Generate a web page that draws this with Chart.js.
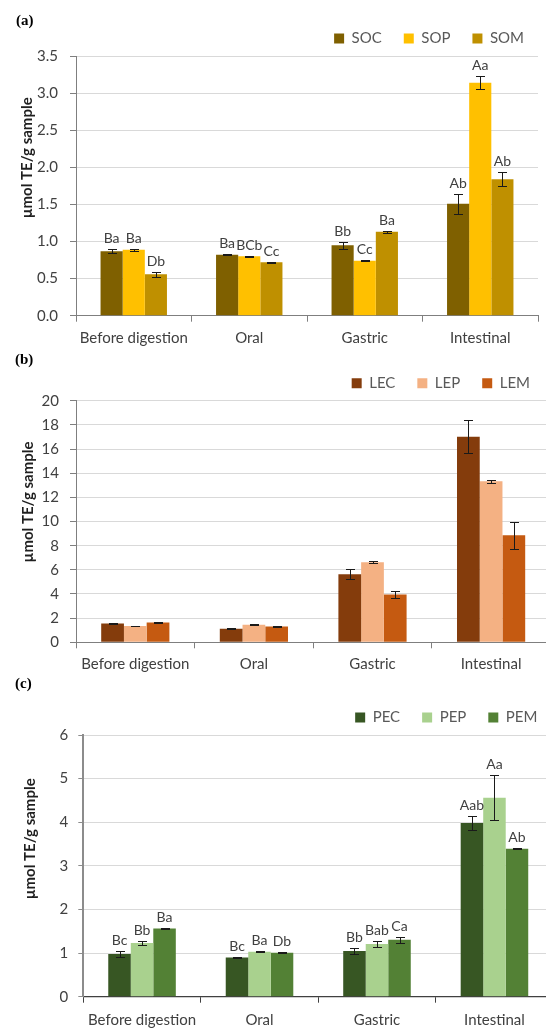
<!DOCTYPE html>
<html><head><meta charset="utf-8">
<script src="https://cdn.jsdelivr.net/npm/chart.js@4.4.1/dist/chart.umd.min.js"></script>
<style>
html,body{margin:0;padding:0;background:#fff;overflow:hidden;width:546px;height:1028px;position:relative;}
canvas.panel{position:absolute;left:0;}
.lab{position:absolute;font-family:"Liberation Serif",serif;font-weight:bold;font-size:15px;color:#000;line-height:17px;z-index:5;}
</style></head><body>
<canvas id="ca" class="panel" style="top:0" width="546" height="360"></canvas>
<canvas id="cb" class="panel" style="top:345px" width="560" height="335"></canvas>
<canvas id="cc" class="panel" style="top:680px" width="560" height="348"></canvas>
<div class="lab" style="left:16px;top:12px">(a)</div>
<div class="lab" style="left:15px;top:351px">(b)</div>
<div class="lab" style="left:15px;top:675px">(c)</div>
<script>
// ---- shared ----
const categories = ['Before digestion', 'Oral', 'Gastric', 'Intestinal'];
const yTitle = 'µmol TE/g sample';

// ---- panel (a) ----
const socVals = [0.87, 0.82, 0.95, 1.51];
const sopVals = [0.89, 0.80, 0.74, 3.14];
const somVals = [0.56, 0.72, 1.13, 1.84];
const socErr = [0.03, 0.005, 0.05, 0.135];
const sopErr = [0.013, 0.004, 0.004, 0.09];
const somErr = [0.035, 0.005, 0.012, 0.095];
const socLetters = ['Ba', 'Ba', 'Bb', 'Ab'];
const sopLetters = ['Ba', 'BCb', 'Cc', 'Aa'];
const somLetters = ['Db', 'Cc', 'Ba', 'Ab'];
const ticksA = [0, 3.5, 0.5];

// ---- panel (b) ----
const lecVals = [1.55, 1.13, 5.64, 17.02];
const lepVals = [1.35, 1.46, 6.63, 13.33];
const lemVals = [1.63, 1.30, 3.95, 8.87];
const lecErr = [0.05, 0.05, 0.40, 1.36];
const lepErr = [0.04, 0.04, 0.08, 0.13];
const lemErr = [0.05, 0.04, 0.29, 1.12];
const ticksB = [0, 20, 2];

// ---- panel (c) ----
const pecVals = [0.98, 0.90, 1.05, 3.98];
const pepVals = [1.23, 1.03, 1.21, 4.56];
const pemVals = [1.565, 1.01, 1.305, 3.39];
const pecErr = [0.075, 0.01, 0.065, 0.16];
const pepErr = [0.045, 0.01, 0.065, 0.52];
const pemErr = [0.01, 0.01, 0.065, 0.01];
const pecLetters = ['Bc', 'Bc', 'Bb', 'Aab'];
const pepLetters = ['Bb', 'Ba', 'Bab', 'Aa'];
const pemLetters = ['Ba', 'Db', 'Ca', 'Ab'];
const ticksC = [0, 6, 1];

Chart.defaults.font.family = 'Lato';
Chart.defaults.color = '#595959';

const errLettersPlugin = {
  id: 'errLetters',
  afterDatasetsDraw(chart) {
    const ctx = chart.ctx, ys = chart.scales.y;
    chart.data.datasets.forEach((ds, i) => {
      const meta = chart.getDatasetMeta(i);
      meta.data.forEach((bar, j) => {
        const v = ds.data[j], e = ds.errors[j];
        const x = Math.round(bar.x) + 0.5;
        const yT = Math.round(ys.getPixelForValue(v + e)) + 0.5;
        const yB = Math.round(ys.getPixelForValue(v - e)) + 0.5;
        ctx.save();
        ctx.strokeStyle = '#1a1a1a';
        ctx.lineWidth = 1;
        ctx.beginPath();
        ctx.moveTo(x, yT); ctx.lineTo(x, yB);
        ctx.moveTo(x - 4.5, yT); ctx.lineTo(x + 4.5, yT);
        ctx.moveTo(x - 4.5, yB); ctx.lineTo(x + 4.5, yB);
        ctx.stroke();
        if (ds.letters) {
          ctx.font = '14px Lato';
          ctx.fillStyle = '#404040';
          ctx.textAlign = 'center';
          ctx.textBaseline = 'alphabetic';
          ctx.fillText(ds.letters[j], bar.x, yT - 6.5);
        }
        ctx.restore();
      });
    });
  }
};

const yTitlePlugin = {
  id: 'yTitleDraw',
  afterDraw(chart, args, opts) {
    const ctx = chart.ctx, ca = chart.chartArea;
    ctx.save();
    ctx.translate(opts.x, (ca.top + ca.bottom) / 2 + opts.dy);
    ctx.rotate(-Math.PI / 2);
    ctx.font = 'bold 15px Lato';
    ctx.fillStyle = '#1f1f1f';
    ctx.textAlign = 'center';
    ctx.textBaseline = 'middle';
    ctx.fillText(opts.text, 0, 0);
    ctx.restore();
  }
};

function makeChart(id, cfg) {
  const datasets = cfg.series.map(s => ({
    label: s.label, data: s.values, errors: s.errors, letters: s.letters,
    backgroundColor: s.color, borderWidth: 0,
    categoryPercentage: 0.575, barPercentage: 1.0
  }));
  return new Chart(document.getElementById(id), {
    type: 'bar',
    data: { labels: categories, datasets },
    plugins: [errLettersPlugin, yTitlePlugin],
    options: {
      responsive: false, animation: false, devicePixelRatio: 1,
      layout: { padding: { left: 0, right: cfg.padR, top: cfg.padT, bottom: 0 } },
      plugins: {
        legend: {
          position: 'top', align: 'end',
          labels: { boxWidth: 10, boxHeight: 10, padding: 22, color: '#595959', font: { size: 15 } }
        },
        tooltip: { enabled: false },
        yTitleDraw: { text: yTitle, x: cfg.titleX, dy: cfg.titleDy }
      },
      scales: {
        x: {
          offset: true,
          grid: { display: true, drawOnChartArea: false, drawTicks: true, tickLength: 6, offset: true, tickColor: cfg.xAxisColor },
          border: { display: true, color: cfg.xAxisColor, width: cfg.xAxisWidth },
          ticks: { color: '#404040', font: { size: 15 }, padding: cfg.xPad, maxRotation: 0, autoSkip: false },
          afterFit: s => { s.height = cfg.xHeight; }
        },
        y: {
          position: 'left',
          min: cfg.ticks[0], max: cfg.ticks[1],
          grid: { color: '#d9d9d9', lineWidth: 1, tickLength: cfg.yTick, tickColor: cfg.yAxisColor },
          border: { display: true, color: cfg.yAxisColor, width: cfg.yAxisWidth },
          ticks: {
            stepSize: cfg.ticks[2], color: '#404040', font: { size: 15 }, padding: cfg.yPad,
            callback: v => cfg.decimals ? Number(v).toFixed(cfg.decimals) : String(v)
          },
          afterFit: s => { s.width = cfg.axisX; }
        },
        yR: {
          position: 'right', display: true,
          grid: { display: false, drawTicks: false }, border: { display: false },
          ticks: { display: false },
          afterFit: s => { s.width = cfg.rightW; }
        }
      }
    }
  });
}

makeChart('ca', {
  series: [
    { label: 'SOC', values: socVals, errors: socErr, letters: socLetters, color: '#7f6000' },
    { label: 'SOP', values: sopVals, errors: sopErr, letters: sopLetters, color: '#ffc000' },
    { label: 'SOM', values: somVals, errors: somErr, letters: somLetters, color: '#bf9000' }
  ],
  ticks: ticksA, decimals: 1,
  padR: 0, padT: 9, rightW: 8, axisX: 76, xHeight: 44.3, xPad: 7,
  yTick: 6, yPad: 12, xAxisColor: '#7f7f7f', xAxisWidth: 1, yAxisColor: '#7f7f7f', yAxisWidth: 1,
  titleX: 27, titleDy: -28
});

makeChart('cb', {
  series: [
    { label: 'LEC', values: lecVals, errors: lecErr, color: '#843c0c' },
    { label: 'LEP', values: lepVals, errors: lepErr, color: '#f4b183' },
    { label: 'LEM', values: lemVals, errors: lemErr, color: '#c55a11' }
  ],
  ticks: ticksB, decimals: 0,
  padR: 8, padT: 8.7, rightW: 1.6, axisX: 76, xHeight: 37.7, xPad: 7,
  yTick: 6, yPad: 11, xAxisColor: '#7f7f7f', xAxisWidth: 1, yAxisColor: '#7f7f7f', yAxisWidth: 1,
  titleX: 28, titleDy: -19.5
});

makeChart('cc', {
  series: [
    { label: 'PEC', values: pecVals, errors: pecErr, letters: pecLetters, color: '#375623' },
    { label: 'PEP', values: pepVals, errors: pepErr, letters: pepLetters, color: '#a9d18e' },
    { label: 'PEM', values: pemVals, errors: pemErr, letters: pemLetters, color: '#538135' }
  ],
  ticks: ticksC, decimals: 0,
  padR: 0.6, padT: 8, rightW: 6.2, axisX: 83.3, xHeight: 31.3, xPad: 8.5,
  yTick: 5, yPad: 10, xAxisColor: '#404040', xAxisWidth: 1.2, yAxisColor: '#8c8c8c', yAxisWidth: 2,
  titleX: 30, titleDy: -27
});
</script>
</body></html>
